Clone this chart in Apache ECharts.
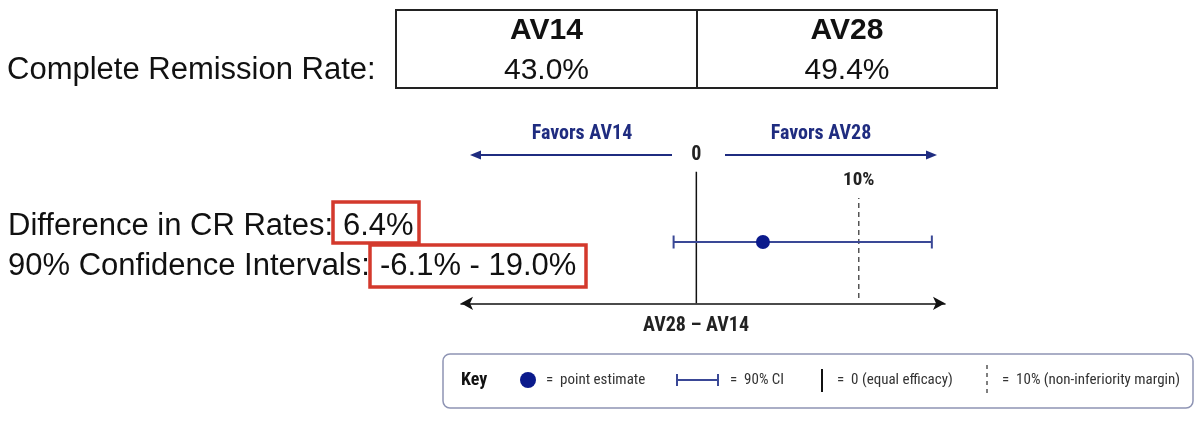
<!DOCTYPE html>
<html>
<head>
<meta charset="utf-8">
<script src="https://cdn.jsdelivr.net/npm/echarts@6/dist/echarts.min.js"></script>
<style>
html,body{margin:0;padding:0;background:#fff;}
#chart{width:1200px;height:423px;}
</style>
</head>
<body>
<div id="chart"></div>
<script>
// ---- data ----
const groups = ['AV14', 'AV28'];
const crRates = [43.0, 49.4];
const diffValue = 6.4;
const ciBounds = [-6.1, 19.0];
const refLines = [0, 10];
const refLabels = ['0', '10%'];
const directionLabels = ['Favors AV14', 'Favors AV28'];
const axisTitle = 'AV28 \u2013 AV14';
// the diagram is schematic: positions of the marks
const estimatePlot = [4.1];
const ciPlot = [-1.4, 14.5];
const keyLabels = ['point estimate', '90% CI', '0 (equal efficacy)', '10% (non-inferiority margin)'];

// ---- styling ----
const SANS = "'Liberation Sans', Arial, Helvetica, sans-serif";
const NARROW = "'Liberation Sans Narrow', 'Roboto Condensed', 'DejaVu Sans Condensed', 'Liberation Sans', sans-serif";
const NAVY = '#1f2c80';
const DOT = '#0b1a8c';
const CI_COL = '#3a4896';
const RED = '#d3392c';
const pct = v => v.toFixed(1) + '%';

const chart = echarts.init(document.getElementById('chart'), null, {renderer: 'canvas'});

const rowY = 61.3;          // CI row (in plot units)
const zeroTop = 131.6;
const dashRange = [5.3, 105.3];

function txt(x, y, text, font, fill, align) {
  return {type: 'text', x: x, y: y, silent: true,
    style: {text: text, font: font, fill: fill || '#111', align: align || 'left', verticalAlign: 'middle'}};
}

const graphics = [
  // table
  {type: 'rect', shape: {x: 396, y: 10, width: 601, height: 78}, style: {fill: '#fff', stroke: '#222', lineWidth: 2}},
  {type: 'line', shape: {x1: 697, y1: 10, x2: 697, y2: 88}, style: {stroke: '#222', lineWidth: 2}},
  txt(546.5, 31, groups[0], 'bold 30px ' + SANS, '#111', 'center'),
  txt(847, 31, groups[1], 'bold 30px ' + SANS, '#111', 'center'),
  txt(546.5, 70.5, pct(crRates[0]), '30px ' + SANS, '#111', 'center'),
  txt(847, 70.5, pct(crRates[1]), '30px ' + SANS, '#111', 'center'),
  txt(7, 70.5, 'Complete Remission Rate:', '31px ' + SANS, '#111', 'left'),
  // difference lines
  txt(8, 226, 'Difference in CR Rates:', '31px ' + SANS, '#111', 'left'),
  txt(343, 226, pct(diffValue), '31px ' + SANS, '#111', 'left'),
  txt(8, 266, '90% Confidence Intervals:', '31px ' + SANS, '#111', 'left'),
  txt(380, 266, pct(ciBounds[0]) + ' - ' + pct(ciBounds[1]), '31px ' + SANS, '#111', 'left'),
  {type: 'rect', shape: {x: 333, y: 202, width: 86, height: 41}, style: {fill: 'none', stroke: RED, lineWidth: 3.5}},
  {type: 'rect', shape: {x: 370, y: 245, width: 216, height: 42}, style: {fill: 'none', stroke: RED, lineWidth: 3.5}},
  // direction arrows
  txt(582, 133.5, directionLabels[0], 'bold 20px ' + NARROW, NAVY, 'center'),
  txt(821, 133.5, directionLabels[1], 'bold 20px ' + NARROW, NAVY, 'center'),
  {type: 'line', shape: {x1: 478, y1: 155, x2: 672, y2: 155}, style: {stroke: NAVY, lineWidth: 2}},
  {type: 'polygon', shape: {points: [[470, 155], [481, 150.5], [481, 159.5]]}, style: {fill: NAVY}},
  {type: 'line', shape: {x1: 725, y1: 155, x2: 928, y2: 155}, style: {stroke: NAVY, lineWidth: 2}},
  {type: 'polygon', shape: {points: [[937, 155], [926, 150.5], [926, 159.5]]}, style: {fill: NAVY}},
  txt(696, 325.5, axisTitle, 'bold 20px ' + NARROW, '#222', 'center'),
  // key
  {type: 'rect', shape: {x: 443, y: 354, width: 750, height: 54, r: 7}, style: {fill: 'none', stroke: '#8e94b4', lineWidth: 1.5}},
  txt(461, 380, 'Key', 'bold 18px ' + NARROW, '#111', 'left'),
  {type: 'circle', shape: {cx: 528, cy: 380, r: 8}, style: {fill: DOT}},
  txt(546, 380, '=  ' + keyLabels[0], '15px ' + NARROW, '#333', 'left'),
  {type: 'line', shape: {x1: 677, y1: 380, x2: 718, y2: 380}, style: {stroke: CI_COL, lineWidth: 2}},
  {type: 'line', shape: {x1: 677, y1: 374, x2: 677, y2: 386}, style: {stroke: CI_COL, lineWidth: 2}},
  {type: 'line', shape: {x1: 718, y1: 374, x2: 718, y2: 386}, style: {stroke: CI_COL, lineWidth: 2}},
  txt(730, 380, '=  ' + keyLabels[1], '15px ' + NARROW, '#333', 'left'),
  {type: 'line', shape: {x1: 822, y1: 369, x2: 822, y2: 392}, style: {stroke: '#111', lineWidth: 2}},
  txt(837, 380, '=  ' + keyLabels[2], '15px ' + NARROW, '#333', 'left'),
  {type: 'line', shape: {x1: 987, y1: 365, x2: 987, y2: 396}, style: {stroke: '#555', lineWidth: 1.5, lineDash: [4, 4]}},
  txt(1002, 380, '=  ' + keyLabels[3], '15px ' + NARROW, '#333', 'left')
];

const option = {
  animation: false,
  backgroundColor: '#fff',
  grid: {left: 461, right: 255, top: 103.3, bottom: 119.7},
  xAxis: {
    type: 'value', min: -14.49, max: 15.31,
    axisLine: {show: true, onZero: false, symbol: ['arrow', 'arrow'], symbolSize: [10, 12],
      lineStyle: {color: '#111', width: 1.5}},
    axisTick: {show: false}, axisLabel: {show: false}, splitLine: {show: false}
  },
  yAxis: {type: 'value', min: 0, max: 200, show: false},
  series: [
    {type: 'line', symbol: 'none', silent: true, z: 1,
      lineStyle: {color: '#111', width: 1.5},
      data: [[refLines[0], 0], [refLines[0], zeroTop]]},
    {type: 'line', symbol: 'none', silent: true, z: 1,
      lineStyle: {color: '#555', width: 1.5, type: [5, 4]},
      data: [[refLines[1], dashRange[0]], [refLines[1], dashRange[1]]]},
    {type: 'line', symbol: 'rect', symbolSize: [2, 13], silent: true, z: 2,
      itemStyle: {color: CI_COL}, lineStyle: {color: CI_COL, width: 2},
      data: ciPlot.map(v => [v, rowY])},
    {type: 'scatter', symbol: 'circle', symbolSize: 14, silent: true, z: 3,
      itemStyle: {color: DOT, opacity: 1},
      data: estimatePlot.map(v => [v, rowY])},
    {type: 'scatter', symbol: 'circle', symbolSize: 1, silent: true, z: 3,
      itemStyle: {color: 'rgba(0,0,0,0)', opacity: 1},
      label: {show: true, position: 'inside', color: '#222', fontWeight: 'bold', fontFamily: NARROW},
      data: refLines.map((v, i) => ({
        value: [v, i === 0 ? 148.3 : 123.3],
        label: {formatter: refLabels[i], fontSize: i === 0 ? 20 : 19}
      }))}
  ],
  graphic: graphics
};
chart.setOption(option);
</script>
</body>
</html>
